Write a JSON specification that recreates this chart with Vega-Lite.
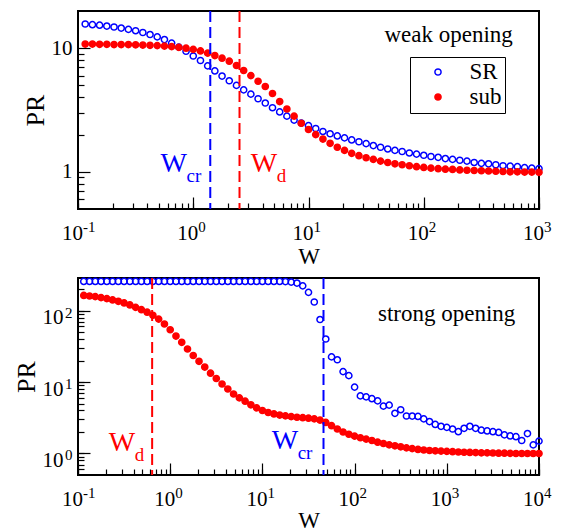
{
"$schema":"https://vega.github.io/schema/vega-lite/v6.json",
"background":"white",
"padding":{"left":12,"top":9,"right":5,"bottom":0},
"spacing":69,
"bounds":"flush",
"datasets":{
"top":[
{"W":0.1155,"PR":15.7,"s":"SR"},{"W":0.1334,"PR":15.5,"s":"SR"},{"W":0.154,"PR":15.35,"s":"SR"},{"W":0.1778,"PR":15.1,"s":"SR"},{"W":0.2054,"PR":14.85,"s":"SR"},{"W":0.2371,"PR":14.55,"s":"SR"},{"W":0.2738,"PR":14.2,"s":"SR"},{"W":0.3162,"PR":13.85,"s":"SR"},{"W":0.3652,"PR":13.4,"s":"SR"},{"W":0.4217,"PR":12.9,"s":"SR"},{"W":0.487,"PR":12.35,"s":"SR"},{"W":0.5623,"PR":11.75,"s":"SR"},{"W":0.6494,"PR":11.0,"s":"SR"},{"W":0.7499,"PR":10.2,"s":"SR"},{"W":0.866,"PR":9.45,"s":"SR"},{"W":1,"PR":8.65,"s":"SR"},{"W":1.155,"PR":7.95,"s":"SR"},{"W":1.334,"PR":7.2,"s":"SR"},{"W":1.54,"PR":6.55,"s":"SR"},{"W":1.778,"PR":5.95,"s":"SR"},{"W":2.054,"PR":5.45,"s":"SR"},{"W":2.371,"PR":5.0,"s":"SR"},{"W":2.738,"PR":4.6,"s":"SR"},{"W":3.162,"PR":4.25,"s":"SR"},{"W":3.652,"PR":3.9,"s":"SR"},{"W":4.217,"PR":3.6,"s":"SR"},{"W":4.87,"PR":3.3,"s":"SR"},{"W":5.623,"PR":3.05,"s":"SR"},{"W":6.494,"PR":2.82,"s":"SR"},{"W":7.499,"PR":2.62,"s":"SR"},{"W":8.66,"PR":2.48,"s":"SR"},{"W":10,"PR":2.36,"s":"SR"},{"W":11.55,"PR":2.24,"s":"SR"},{"W":13.34,"PR":2.12,"s":"SR"},{"W":15.4,"PR":2.03,"s":"SR"},{"W":17.78,"PR":1.95,"s":"SR"},{"W":20.54,"PR":1.88,"s":"SR"},{"W":23.71,"PR":1.81,"s":"SR"},{"W":27.38,"PR":1.75,"s":"SR"},{"W":31.62,"PR":1.69,"s":"SR"},{"W":36.52,"PR":1.63,"s":"SR"},{"W":42.17,"PR":1.58,"s":"SR"},{"W":48.7,"PR":1.53,"s":"SR"},{"W":56.23,"PR":1.49,"s":"SR"},{"W":64.94,"PR":1.46,"s":"SR"},{"W":74.99,"PR":1.42,"s":"SR"},{"W":86.6,"PR":1.39,"s":"SR"},{"W":100,"PR":1.36,"s":"SR"},{"W":115.5,"PR":1.33,"s":"SR"},{"W":133.4,"PR":1.31,"s":"SR"},{"W":154,"PR":1.28,"s":"SR"},{"W":177.8,"PR":1.26,"s":"SR"},{"W":205.4,"PR":1.24,"s":"SR"},{"W":237.1,"PR":1.22,"s":"SR"},{"W":273.8,"PR":1.19,"s":"SR"},{"W":316.2,"PR":1.17,"s":"SR"},{"W":365.2,"PR":1.16,"s":"SR"},{"W":421.7,"PR":1.14,"s":"SR"},{"W":487,"PR":1.12,"s":"SR"},{"W":562.3,"PR":1.11,"s":"SR"},{"W":649.4,"PR":1.1,"s":"SR"},{"W":749.9,"PR":1.08,"s":"SR"},{"W":866,"PR":1.07,"s":"SR"},{"W":1000,"PR":1.06,"s":"SR"},
{"W":0.1155,"PR":10.8,"s":"sub"},{"W":0.1334,"PR":10.8,"s":"sub"},{"W":0.154,"PR":10.75,"s":"sub"},{"W":0.1778,"PR":10.75,"s":"sub"},{"W":0.2054,"PR":10.7,"s":"sub"},{"W":0.2371,"PR":10.7,"s":"sub"},{"W":0.2738,"PR":10.7,"s":"sub"},{"W":0.3162,"PR":10.65,"s":"sub"},{"W":0.3652,"PR":10.6,"s":"sub"},{"W":0.4217,"PR":10.55,"s":"sub"},{"W":0.487,"PR":10.5,"s":"sub"},{"W":0.5623,"PR":10.4,"s":"sub"},{"W":0.6494,"PR":10.3,"s":"sub"},{"W":0.7499,"PR":10.15,"s":"sub"},{"W":0.866,"PR":10.0,"s":"sub"},{"W":1,"PR":9.78,"s":"sub"},{"W":1.155,"PR":9.5,"s":"sub"},{"W":1.334,"PR":9.12,"s":"sub"},{"W":1.54,"PR":8.72,"s":"sub"},{"W":1.778,"PR":8.3,"s":"sub"},{"W":2.054,"PR":7.85,"s":"sub"},{"W":2.371,"PR":7.25,"s":"sub"},{"W":2.738,"PR":6.6,"s":"sub"},{"W":3.162,"PR":6.0,"s":"sub"},{"W":3.652,"PR":5.4,"s":"sub"},{"W":4.217,"PR":4.9,"s":"sub"},{"W":4.87,"PR":4.3,"s":"sub"},{"W":5.623,"PR":3.7,"s":"sub"},{"W":6.494,"PR":3.22,"s":"sub"},{"W":7.499,"PR":2.82,"s":"sub"},{"W":8.66,"PR":2.47,"s":"sub"},{"W":10,"PR":2.2,"s":"sub"},{"W":11.55,"PR":2.0,"s":"sub"},{"W":13.34,"PR":1.84,"s":"sub"},{"W":15.4,"PR":1.7,"s":"sub"},{"W":17.78,"PR":1.58,"s":"sub"},{"W":20.54,"PR":1.49,"s":"sub"},{"W":23.71,"PR":1.41,"s":"sub"},{"W":27.38,"PR":1.35,"s":"sub"},{"W":31.62,"PR":1.3,"s":"sub"},{"W":36.52,"PR":1.26,"s":"sub"},{"W":42.17,"PR":1.22,"s":"sub"},{"W":48.7,"PR":1.19,"s":"sub"},{"W":56.23,"PR":1.16,"s":"sub"},{"W":64.94,"PR":1.14,"s":"sub"},{"W":74.99,"PR":1.12,"s":"sub"},{"W":86.6,"PR":1.1,"s":"sub"},{"W":100,"PR":1.085,"s":"sub"},{"W":115.5,"PR":1.07,"s":"sub"},{"W":133.4,"PR":1.06,"s":"sub"},{"W":154,"PR":1.05,"s":"sub"},{"W":177.8,"PR":1.045,"s":"sub"},{"W":205.4,"PR":1.035,"s":"sub"},{"W":237.1,"PR":1.03,"s":"sub"},{"W":273.8,"PR":1.025,"s":"sub"},{"W":316.2,"PR":1.02,"s":"sub"},{"W":365.2,"PR":1.015,"s":"sub"},{"W":421.7,"PR":1.01,"s":"sub"},{"W":487,"PR":1.005,"s":"sub"},{"W":562.3,"PR":1.0,"s":"sub"},{"W":649.4,"PR":1.0,"s":"sub"},{"W":749.9,"PR":0.995,"s":"sub"},{"W":866,"PR":0.995,"s":"sub"},{"W":1000,"PR":0.99,"s":"sub"}
],
"bottom":[
{"W":0.1155,"PR":256,"s":"SR"},{"W":0.1334,"PR":256,"s":"SR"},{"W":0.154,"PR":256,"s":"SR"},{"W":0.1778,"PR":256,"s":"SR"},{"W":0.2054,"PR":256,"s":"SR"},{"W":0.2371,"PR":256,"s":"SR"},{"W":0.2738,"PR":256,"s":"SR"},{"W":0.3162,"PR":256,"s":"SR"},{"W":0.3652,"PR":256,"s":"SR"},{"W":0.4217,"PR":256,"s":"SR"},{"W":0.487,"PR":256,"s":"SR"},{"W":0.5623,"PR":256,"s":"SR"},{"W":0.6494,"PR":256,"s":"SR"},{"W":0.7499,"PR":256,"s":"SR"},{"W":0.866,"PR":256,"s":"SR"},{"W":1,"PR":256,"s":"SR"},{"W":1.155,"PR":256,"s":"SR"},{"W":1.334,"PR":256,"s":"SR"},{"W":1.54,"PR":256,"s":"SR"},{"W":1.778,"PR":256,"s":"SR"},{"W":2.054,"PR":256,"s":"SR"},{"W":2.371,"PR":256,"s":"SR"},{"W":2.738,"PR":256,"s":"SR"},{"W":3.162,"PR":256,"s":"SR"},{"W":3.652,"PR":256,"s":"SR"},{"W":4.217,"PR":256,"s":"SR"},{"W":4.87,"PR":256,"s":"SR"},{"W":5.623,"PR":256,"s":"SR"},{"W":6.494,"PR":256,"s":"SR"},{"W":7.499,"PR":256,"s":"SR"},{"W":8.66,"PR":256,"s":"SR"},{"W":10,"PR":256,"s":"SR"},{"W":11.55,"PR":256,"s":"SR"},{"W":13.34,"PR":256,"s":"SR"},{"W":15.4,"PR":256,"s":"SR"},{"W":17.78,"PR":255,"s":"SR"},{"W":20.54,"PR":251,"s":"SR"},{"W":23.71,"PR":243,"s":"SR"},{"W":27.38,"PR":222,"s":"SR"},{"W":31.62,"PR":180,"s":"SR"},{"W":36.52,"PR":132,"s":"SR"},{"W":42.17,"PR":75,"s":"SR"},{"W":48.7,"PR":40,"s":"SR"},{"W":56.23,"PR":22.5,"s":"SR"},{"W":64.94,"PR":20.5,"s":"SR"},{"W":74.99,"PR":14,"s":"SR"},{"W":86.6,"PR":12.3,"s":"SR"},{"W":100,"PR":8.5,"s":"SR"},{"W":115.5,"PR":6.4,"s":"SR"},{"W":133.4,"PR":6.2,"s":"SR"},{"W":154,"PR":5.85,"s":"SR"},{"W":177.8,"PR":5.45,"s":"SR"},{"W":205.4,"PR":4.6,"s":"SR"},{"W":237.1,"PR":4.75,"s":"SR"},{"W":273.8,"PR":3.65,"s":"SR"},{"W":316.2,"PR":4.1,"s":"SR"},{"W":365.2,"PR":3.35,"s":"SR"},{"W":421.7,"PR":3.34,"s":"SR"},{"W":487,"PR":3.3,"s":"SR"},{"W":562.3,"PR":3.05,"s":"SR"},{"W":649.4,"PR":2.8,"s":"SR"},{"W":749.9,"PR":2.55,"s":"SR"},{"W":866,"PR":2.4,"s":"SR"},{"W":1000,"PR":2.32,"s":"SR"},{"W":1155,"PR":2.2,"s":"SR"},{"W":1334,"PR":2.02,"s":"SR"},{"W":1540,"PR":2.25,"s":"SR"},{"W":1778,"PR":2.4,"s":"SR"},{"W":2054,"PR":2.25,"s":"SR"},{"W":2371,"PR":2.12,"s":"SR"},{"W":2738,"PR":2.07,"s":"SR"},{"W":3162,"PR":2.02,"s":"SR"},{"W":3652,"PR":1.97,"s":"SR"},{"W":4217,"PR":1.82,"s":"SR"},{"W":4870,"PR":1.76,"s":"SR"},{"W":5623,"PR":1.72,"s":"SR"},{"W":6494,"PR":1.52,"s":"SR"},{"W":7499,"PR":1.9,"s":"SR"},{"W":8660,"PR":1.32,"s":"SR"},{"W":10000,"PR":1.49,"s":"SR"},
{"W":0.1155,"PR":163,"s":"sub"},{"W":0.1334,"PR":160,"s":"sub"},{"W":0.154,"PR":157,"s":"sub"},{"W":0.1778,"PR":152,"s":"sub"},{"W":0.2054,"PR":147,"s":"sub"},{"W":0.2371,"PR":141,"s":"sub"},{"W":0.2738,"PR":135,"s":"sub"},{"W":0.3162,"PR":128,"s":"sub"},{"W":0.3652,"PR":120,"s":"sub"},{"W":0.4217,"PR":111,"s":"sub"},{"W":0.487,"PR":103,"s":"sub"},{"W":0.5623,"PR":95,"s":"sub"},{"W":0.6494,"PR":86,"s":"sub"},{"W":0.7499,"PR":76,"s":"sub"},{"W":0.866,"PR":65,"s":"sub"},{"W":1,"PR":54,"s":"sub"},{"W":1.155,"PR":44,"s":"sub"},{"W":1.334,"PR":36,"s":"sub"},{"W":1.54,"PR":29,"s":"sub"},{"W":1.778,"PR":23.5,"s":"sub"},{"W":2.054,"PR":19.5,"s":"sub"},{"W":2.371,"PR":16.2,"s":"sub"},{"W":2.738,"PR":13.3,"s":"sub"},{"W":3.162,"PR":11.2,"s":"sub"},{"W":3.652,"PR":9.4,"s":"sub"},{"W":4.217,"PR":8.0,"s":"sub"},{"W":4.87,"PR":6.8,"s":"sub"},{"W":5.623,"PR":6.0,"s":"sub"},{"W":6.494,"PR":5.4,"s":"sub"},{"W":7.499,"PR":4.8,"s":"sub"},{"W":8.66,"PR":4.35,"s":"sub"},{"W":10,"PR":4.0,"s":"sub"},{"W":11.55,"PR":3.75,"s":"sub"},{"W":13.34,"PR":3.58,"s":"sub"},{"W":15.4,"PR":3.45,"s":"sub"},{"W":17.78,"PR":3.36,"s":"sub"},{"W":20.54,"PR":3.28,"s":"sub"},{"W":23.71,"PR":3.22,"s":"sub"},{"W":27.38,"PR":3.17,"s":"sub"},{"W":31.62,"PR":3.12,"s":"sub"},{"W":36.52,"PR":3.05,"s":"sub"},{"W":42.17,"PR":2.93,"s":"sub"},{"W":48.7,"PR":2.72,"s":"sub"},{"W":56.23,"PR":2.45,"s":"sub"},{"W":64.94,"PR":2.2,"s":"sub"},{"W":74.99,"PR":2.0,"s":"sub"},{"W":86.6,"PR":1.86,"s":"sub"},{"W":100,"PR":1.75,"s":"sub"},{"W":115.5,"PR":1.66,"s":"sub"},{"W":133.4,"PR":1.59,"s":"sub"},{"W":154,"PR":1.52,"s":"sub"},{"W":177.8,"PR":1.44,"s":"sub"},{"W":205.4,"PR":1.38,"s":"sub"},{"W":237.1,"PR":1.32,"s":"sub"},{"W":273.8,"PR":1.28,"s":"sub"},{"W":316.2,"PR":1.24,"s":"sub"},{"W":365.2,"PR":1.2,"s":"sub"},{"W":421.7,"PR":1.17,"s":"sub"},{"W":487,"PR":1.14,"s":"sub"},{"W":562.3,"PR":1.12,"s":"sub"},{"W":649.4,"PR":1.1,"s":"sub"},{"W":749.9,"PR":1.09,"s":"sub"},{"W":866,"PR":1.08,"s":"sub"},{"W":1000,"PR":1.07,"s":"sub"},{"W":1155,"PR":1.06,"s":"sub"},{"W":1334,"PR":1.05,"s":"sub"},{"W":1540,"PR":1.04,"s":"sub"},{"W":1778,"PR":1.035,"s":"sub"},{"W":2054,"PR":1.03,"s":"sub"},{"W":2371,"PR":1.02,"s":"sub"},{"W":2738,"PR":1.02,"s":"sub"},{"W":3162,"PR":1.015,"s":"sub"},{"W":3652,"PR":1.01,"s":"sub"},{"W":4217,"PR":1.01,"s":"sub"},{"W":4870,"PR":1.005,"s":"sub"},{"W":5623,"PR":1.0,"s":"sub"},{"W":6494,"PR":1.0,"s":"sub"},{"W":7499,"PR":1.0,"s":"sub"},{"W":8660,"PR":1.0,"s":"sub"},{"W":10000,"PR":1.0,"s":"sub"}
],
"topLines":[{"W":1.405,"k":"cr"},{"W":2.52,"k":"d"}],
"topLabels":[{"x":0.521,"y":1.0,"k":"cr"},{"x":3.15,"y":1.0,"k":"d"}],
"topNote":[{"x":593,"y":11.2,"t":"weak opening"}],
"botLines":[{"W":0.637,"k":"d"},{"W":46,"k":"cr"}],
"botLabels":[{"x":0.216,"y":1.09,"k":"d"},{"x":12.6,"y":1.15,"k":"cr"}],
"botNote":[{"x":5535,"y":71.7,"t":"strong opening"}]
},
"vconcat":[
{
"width":461,"height":198,
"resolve":{"axis":{"x":"independent","y":"independent"}},
"layer":[
{"data":{"name":"top"},
 "mark":{"type":"point","shape":"circle","size":38,"strokeWidth":1.5,"opacity":1,"filled":true},
 "encoding":{
  "x":{"field":"W","type":"quantitative","scale":{"type":"log","domain":[0.1,1000],"nice":false},
   "axis":{"orient":"bottom","values":[0.1,1,10,100,1000],"labelExpr":"'10'","tickSize":-12,"tickWidth":1.2,"labelPadding":25,"labelAlign":"right","labelOffset":4.5,"labelBaseline":"top","labelFontSize":21,"title":"W","titleFontSize":23,"titlePadding":2}},
  "y":{"field":"PR","type":"quantitative","scale":{"type":"log","domain":[0.5,20],"nice":false},
   "axis":{"orient":"left","values":[1,10],"labelExpr":"datum.value == 1 ? '1' : '10'","tickSize":-12,"tickWidth":1.2,"labelPadding":18,"labelFontSize":21,"title":"PR","titleFontSize":26,"titlePadding":3}},
  "fill":{"field":"s","type":"nominal","scale":{"domain":["SR","sub"],"range":["transparent","#ff0000"]},"legend":{"orient":"none","legendX":332,"legendY":46,"title":null}},
  "stroke":{"field":"s","type":"nominal","scale":{"domain":["SR","sub"],"range":["#0000ff","#ff0000"]},"legend":{"orient":"none","legendX":332,"legendY":46,"title":null}}
 }},
{"data":{"name":"topLines"},
 "mark":{"type":"rule","strokeWidth":2,"strokeDash":[11,5]},
 "encoding":{
  "x":{"field":"W","type":"quantitative","scale":{"type":"log","domain":[0.1,1000],"nice":false},
   "axis":{"orient":"bottom","values":[0.1,0.2,0.3,0.4,0.5,0.6,0.7,0.8,0.9,1,2,3,4,5,6,7,8,9,10,20,30,40,50,60,70,80,90,100,200,300,400,500,600,700,800,900,1000],"labelExpr":"datum.value == 0.1 ? '-1' : datum.value == 1 ? '0' : datum.value == 10 ? '1' : datum.value == 100 ? '2' : datum.value == 1000 ? '3' : ''","tickSize":-6,"tickWidth":1.2,"labelPadding":16,"labelAlign":"left","labelOffset":4.5,"labelBaseline":"top","labelFontSize":15,"title":null}},
  "color":{"field":"k","type":"nominal","scale":{"domain":["cr","d"],"range":["#0000ff","#ff0000"]},"legend":null}
 }},
{"data":{"name":"topLabels"},
 "mark":{"type":"text","text":"W","fontSize":28,"align":"left","baseline":"alphabetic"},
 "encoding":{
  "x":{"field":"x","type":"quantitative","scale":{"type":"log","domain":[0.1,1000],"nice":false},"axis":null},
  "y":{"field":"y","type":"quantitative","scale":{"type":"log","domain":[0.5,20],"nice":false},
   "axis":{"orient":"left","values":[0.6,0.7,0.8,0.9,2,3,4,5,6,7,8,9],"labels":false,"tickSize":-6,"tickWidth":1.2,"title":null}},
  "color":{"field":"k","type":"nominal","scale":{"domain":["cr","d"],"range":["#0000ff","#ff0000"]},"legend":null}
 }},
{"data":{"name":"topLabels"},
 "mark":{"type":"text","fontSize":19,"align":"left","baseline":"alphabetic","dx":26,"dy":10},
 "encoding":{
  "x":{"field":"x","type":"quantitative","scale":{"type":"log","domain":[0.1,1000],"nice":false},"axis":null},
  "y":{"field":"y","type":"quantitative","scale":{"type":"log","domain":[0.5,20],"nice":false},"axis":null},
  "text":{"field":"k"},
  "color":{"field":"k","type":"nominal","scale":{"domain":["cr","d"],"range":["#0000ff","#ff0000"]},"legend":null}
 }},
{"data":{"name":"topNote"},
 "mark":{"type":"text","fontSize":23,"align":"right","baseline":"alphabetic","color":"black"},
 "encoding":{
  "x":{"field":"x","type":"quantitative","scale":{"type":"log","domain":[0.1,1000],"nice":false},"axis":null},
  "y":{"field":"y","type":"quantitative","scale":{"type":"log","domain":[0.5,20],"nice":false},"axis":null},
  "text":{"field":"t"}
 }}
]
},
{
"width":461,"height":197,
"resolve":{"axis":{"x":"independent","y":"independent"}},
"layer":[
{"data":{"name":"bottom"},
 "mark":{"type":"point","shape":"circle","size":38,"strokeWidth":1.5,"opacity":1,"filled":true},
 "encoding":{
  "x":{"field":"W","type":"quantitative","scale":{"type":"log","domain":[0.1,10000],"nice":false},
   "axis":{"orient":"bottom","values":[0.1,1,10,100,1000,10000],"labelExpr":"'10'","tickSize":-12,"tickWidth":1.2,"labelPadding":25,"labelAlign":"right","labelOffset":4.5,"labelBaseline":"top","labelFontSize":21,"title":"W","titleFontSize":23,"titlePadding":0}},
  "y":{"field":"PR","type":"quantitative","scale":{"type":"log","domain":[0.5,286],"nice":false},
   "axis":{"orient":"left","values":[1,10,100],"labelExpr":"'10'","tickSize":-12,"tickWidth":1.2,"labelPadding":27,"labelOffset":7,"labelFontSize":21,"title":"PR","titleFontSize":26,"titlePadding":3}},
  "fill":{"field":"s","type":"nominal","scale":{"domain":["SR","sub"],"range":["transparent","#ff0000"]},"legend":{"orient":"none","legendX":332,"legendY":57,"title":null}},
  "stroke":{"field":"s","type":"nominal","scale":{"domain":["SR","sub"],"range":["#0000ff","#ff0000"]},"legend":{"orient":"none","legendX":332,"legendY":57,"title":null}}
 }},
{"data":{"name":"botLines"},
 "mark":{"type":"rule","strokeWidth":2,"strokeDash":[11,5]},
 "encoding":{
  "x":{"field":"W","type":"quantitative","scale":{"type":"log","domain":[0.1,10000],"nice":false},
   "axis":{"orient":"bottom","values":[0.1,0.2,0.3,0.4,0.5,0.6,0.7,0.8,0.9,1,2,3,4,5,6,7,8,9,10,20,30,40,50,60,70,80,90,100,200,300,400,500,600,700,800,900,1000,2000,3000,4000,5000,6000,7000,8000,9000,10000],"labelExpr":"datum.value == 0.1 ? '-1' : datum.value == 1 ? '0' : datum.value == 10 ? '1' : datum.value == 100 ? '2' : datum.value == 1000 ? '3' : datum.value == 10000 ? '4' : ''","tickSize":-6,"tickWidth":1.2,"labelPadding":16,"labelAlign":"left","labelOffset":4.5,"labelBaseline":"top","labelFontSize":15,"title":null}},
  "color":{"field":"k","type":"nominal","scale":{"domain":["cr","d"],"range":["#0000ff","#ff0000"]},"legend":null}
 }},
{"data":{"name":"botLabels"},
 "mark":{"type":"text","text":"W","fontSize":28,"align":"left","baseline":"alphabetic"},
 "encoding":{
  "x":{"field":"x","type":"quantitative","scale":{"type":"log","domain":[0.1,10000],"nice":false},"axis":null},
  "y":{"field":"y","type":"quantitative","scale":{"type":"log","domain":[0.5,286],"nice":false},
   "axis":{"orient":"left","values":[0.6,0.7,0.8,0.9,1,2,3,4,5,6,7,8,9,10,20,30,40,50,60,70,80,90,100,200],"labelExpr":"datum.value == 1 ? '0' : datum.value == 10 ? '1' : datum.value == 100 ? '2' : ''","tickSize":-6,"tickWidth":1.2,"labelPadding":12,"labelOffset":1.5,"labelFontSize":15,"title":null}},
  "color":{"field":"k","type":"nominal","scale":{"domain":["cr","d"],"range":["#0000ff","#ff0000"]},"legend":null}
 }},
{"data":{"name":"botLabels"},
 "mark":{"type":"text","fontSize":19,"align":"left","baseline":"alphabetic","dx":26,"dy":10},
 "encoding":{
  "x":{"field":"x","type":"quantitative","scale":{"type":"log","domain":[0.1,10000],"nice":false},"axis":null},
  "y":{"field":"y","type":"quantitative","scale":{"type":"log","domain":[0.5,286],"nice":false},"axis":null},
  "text":{"field":"k"},
  "color":{"field":"k","type":"nominal","scale":{"domain":["cr","d"],"range":["#0000ff","#ff0000"]},"legend":null}
 }},
{"data":{"name":"botNote"},
 "mark":{"type":"text","fontSize":23,"align":"right","baseline":"alphabetic","color":"black"},
 "encoding":{
  "x":{"field":"x","type":"quantitative","scale":{"type":"log","domain":[0.1,10000],"nice":false},"axis":null},
  "y":{"field":"y","type":"quantitative","scale":{"type":"log","domain":[0.5,286],"nice":false},"axis":null},
  "text":{"field":"t"}
 }}
]
}
],
"config":{
 "font":"Liberation Serif",
 "view":{"stroke":"black","strokeWidth":2},
 "axis":{"labelFont":"Liberation Serif","titleFont":"Liberation Serif","labelColor":"black","titleColor":"black","titleFontWeight":"normal","tickColor":"black","domain":false,"grid":false,"labelOverlap":false,"labelFlush":false,"labelBound":false},
 "legend":{"labelFont":"Liberation Serif","labelFontSize":23,"labelColor":"black","strokeColor":"black","padding":3.5,"rowPadding":1,"symbolOffset":13,"labelOffset":20,"symbolStrokeWidth":1.5,"symbolSize":38,"symbolType":"circle"},
 "text":{"font":"Liberation Serif"}
}
}
